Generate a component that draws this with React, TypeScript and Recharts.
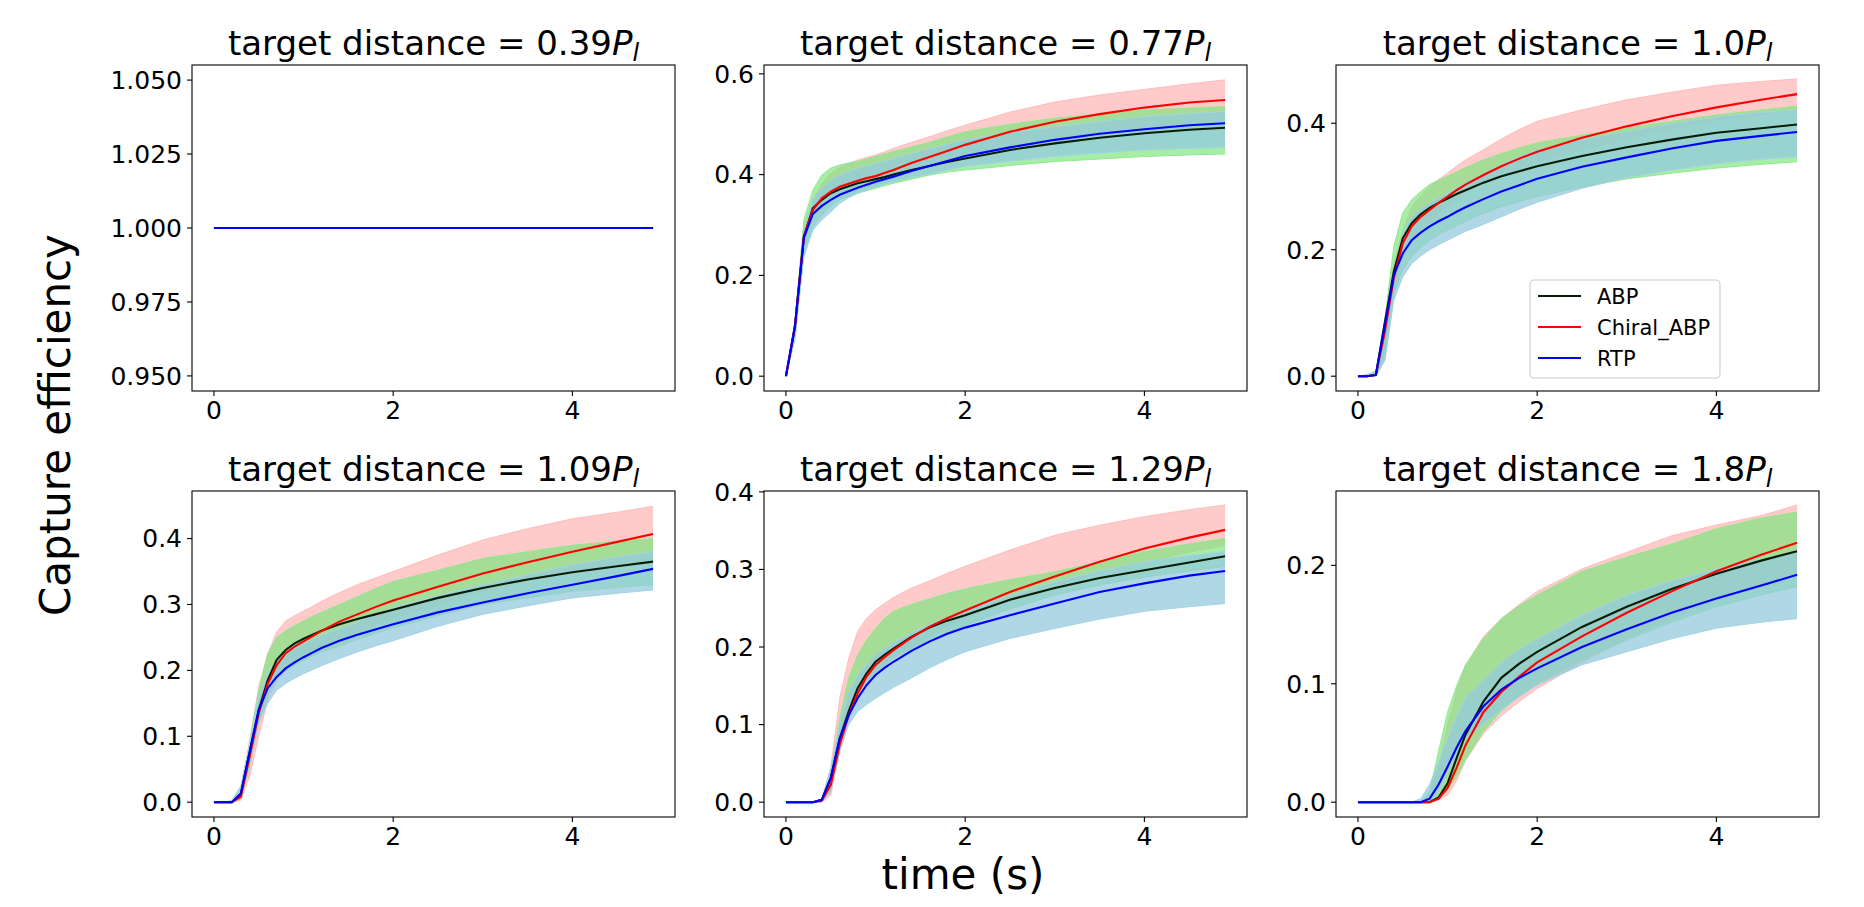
import React from 'react';
import { ComposedChart, Line, Area, XAxis, YAxis } from 'recharts';

const FONT = '"DejaVu Sans", "Liberation Sans", sans-serif';

// shared time grid (s)
const T = [0, 0.1, 0.2, 0.3, 0.4, 0.5, 0.6, 0.7, 0.8, 0.9, 1.0, 1.1, 1.2, 1.4, 1.6, 1.8, 2.0, 2.5, 3.0, 3.5, 4.0, 4.5, 4.9];
const X_TICKS = [0, 2, 4];
const X_DOMAIN: [number, number] = [-0.245, 5.145];

const TITLES = ['0.39', '0.77', '1.0', '1.09', '1.29', '1.8'];
const LEGEND_LABELS = ['ABP', 'Chiral_ABP', 'RTP'];

// ---- panel 1 : 0.39 P_l
const p1Abp = [1, 1, 1, 1, 1, 1, 1, 1, 1, 1, 1, 1, 1, 1, 1, 1, 1, 1, 1, 1, 1, 1, 1];
const p1Chi = [1, 1, 1, 1, 1, 1, 1, 1, 1, 1, 1, 1, 1, 1, 1, 1, 1, 1, 1, 1, 1, 1, 1];
const p1Rtp = [1, 1, 1, 1, 1, 1, 1, 1, 1, 1, 1, 1, 1, 1, 1, 1, 1, 1, 1, 1, 1, 1, 1];
const p1Ticks = [0.95, 0.975, 1.0, 1.025, 1.05];

// ---- panel 2 : 0.77 P_l
const p2Abp = [0, 0.098, 0.277, 0.333, 0.35, 0.363, 0.371, 0.377, 0.383, 0.387, 0.391, 0.395, 0.4, 0.409, 0.417, 0.425, 0.432, 0.449, 0.462, 0.473, 0.482, 0.489, 0.493];
const p2Chi = [0, 0.098, 0.277, 0.33, 0.353, 0.366, 0.376, 0.382, 0.388, 0.393, 0.397, 0.403, 0.409, 0.423, 0.435, 0.447, 0.459, 0.485, 0.505, 0.52, 0.533, 0.543, 0.548];
const p2Rtp = [0, 0.098, 0.275, 0.322, 0.338, 0.35, 0.36, 0.367, 0.374, 0.38, 0.386, 0.391, 0.396, 0.407, 0.417, 0.427, 0.437, 0.454, 0.469, 0.481, 0.49, 0.498, 0.502];
const p2ChiLo = [0, 0.085, 0.257, 0.316, 0.343, 0.36, 0.37, 0.378, 0.386, 0.391, 0.396, 0.401, 0.406, 0.414, 0.422, 0.432, 0.442, 0.456, 0.469, 0.479, 0.488, 0.496, 0.502];
const p2ChiHi = [0, 0.11, 0.297, 0.35, 0.382, 0.402, 0.415, 0.422, 0.429, 0.434, 0.439, 0.445, 0.452, 0.464, 0.475, 0.487, 0.498, 0.524, 0.544, 0.558, 0.569, 0.58, 0.588];
const p2AbpLo = [0, 0.072, 0.244, 0.297, 0.32, 0.336, 0.35, 0.357, 0.363, 0.368, 0.373, 0.378, 0.383, 0.391, 0.399, 0.405, 0.409, 0.418, 0.426, 0.431, 0.436, 0.439, 0.441];
const p2AbpHi = [0, 0.11, 0.31, 0.369, 0.399, 0.413, 0.419, 0.423, 0.426, 0.431, 0.436, 0.441, 0.446, 0.455, 0.464, 0.475, 0.485, 0.5, 0.512, 0.52, 0.528, 0.532, 0.535];
const p2RtpLo = [0, 0.078, 0.237, 0.29, 0.31, 0.326, 0.343, 0.354, 0.363, 0.37, 0.376, 0.381, 0.386, 0.394, 0.401, 0.409, 0.416, 0.427, 0.436, 0.443, 0.449, 0.452, 0.454];
const p2RtpHi = [0, 0.105, 0.284, 0.35, 0.373, 0.389, 0.399, 0.406, 0.412, 0.417, 0.422, 0.427, 0.432, 0.442, 0.451, 0.46, 0.469, 0.483, 0.495, 0.505, 0.515, 0.521, 0.525];
const p2Ticks = [0, 0.2, 0.4, 0.6];

// ---- panel 3 : 1.0 P_l
const p3Abp = [0, 0, 0.002, 0.085, 0.165, 0.218, 0.242, 0.256, 0.266, 0.274, 0.281, 0.288, 0.294, 0.306, 0.316, 0.324, 0.332, 0.348, 0.362, 0.374, 0.385, 0.392, 0.398];
const p3Chi = [0, 0, 0.002, 0.07, 0.155, 0.21, 0.237, 0.252, 0.263, 0.274, 0.284, 0.294, 0.303, 0.318, 0.332, 0.344, 0.355, 0.377, 0.395, 0.411, 0.425, 0.437, 0.446];
const p3Rtp = [0, 0, 0.002, 0.08, 0.16, 0.194, 0.215, 0.227, 0.237, 0.245, 0.252, 0.26, 0.267, 0.28, 0.292, 0.302, 0.312, 0.331, 0.346, 0.36, 0.372, 0.38, 0.386];
const p3ChiLo = [0, 0, 0, 0.036, 0.131, 0.189, 0.215, 0.232, 0.245, 0.257, 0.268, 0.278, 0.288, 0.303, 0.316, 0.328, 0.339, 0.358, 0.375, 0.391, 0.405, 0.414, 0.421];
const p3ChiHi = [0, 0.002, 0.006, 0.09, 0.178, 0.231, 0.268, 0.285, 0.3, 0.311, 0.321, 0.332, 0.342, 0.358, 0.375, 0.39, 0.403, 0.421, 0.437, 0.449, 0.46, 0.466, 0.47];
const p3AbpLo = [0, 0, 0, 0.025, 0.131, 0.168, 0.189, 0.203, 0.215, 0.224, 0.231, 0.238, 0.245, 0.257, 0.268, 0.276, 0.284, 0.299, 0.312, 0.321, 0.329, 0.335, 0.339];
const p3AbpHi = [0, 0.002, 0.008, 0.089, 0.205, 0.258, 0.279, 0.292, 0.303, 0.31, 0.316, 0.323, 0.33, 0.342, 0.352, 0.361, 0.369, 0.381, 0.392, 0.403, 0.413, 0.421, 0.427];
const p3RtpLo = [0, 0, 0, 0.025, 0.12, 0.157, 0.178, 0.19, 0.2, 0.208, 0.215, 0.222, 0.229, 0.24, 0.252, 0.264, 0.275, 0.297, 0.314, 0.326, 0.336, 0.343, 0.347];
const p3RtpHi = [0, 0.002, 0.006, 0.068, 0.163, 0.226, 0.252, 0.264, 0.274, 0.282, 0.289, 0.297, 0.305, 0.32, 0.334, 0.347, 0.358, 0.374, 0.387, 0.399, 0.41, 0.417, 0.421];
const p3Ticks = [0, 0.2, 0.4];

// ---- panel 4 : 1.09 P_l
const p4Abp = [0, 0, 0, 0.012, 0.077, 0.14, 0.185, 0.216, 0.231, 0.241, 0.248, 0.254, 0.26, 0.27, 0.278, 0.285, 0.292, 0.31, 0.325, 0.338, 0.349, 0.358, 0.365];
const p4Chi = [0, 0, 0, 0.008, 0.07, 0.135, 0.18, 0.208, 0.226, 0.236, 0.244, 0.252, 0.26, 0.274, 0.285, 0.296, 0.306, 0.327, 0.347, 0.364, 0.38, 0.395, 0.407];
const p4Rtp = [0, 0, 0, 0.013, 0.077, 0.14, 0.173, 0.19, 0.203, 0.212, 0.22, 0.227, 0.234, 0.245, 0.254, 0.262, 0.27, 0.288, 0.303, 0.317, 0.33, 0.343, 0.354];
const p4ChiLo = [0, 0, 0, 0.003, 0.04, 0.1, 0.155, 0.185, 0.2, 0.21, 0.22, 0.228, 0.235, 0.245, 0.258, 0.27, 0.28, 0.3, 0.32, 0.335, 0.35, 0.36, 0.365];
const p4ChiHi = [0, 0, 0.002, 0.02, 0.095, 0.175, 0.225, 0.258, 0.275, 0.283, 0.29, 0.297, 0.305, 0.318, 0.33, 0.34, 0.35, 0.375, 0.398, 0.415, 0.43, 0.44, 0.449];
const p4AbpLo = [0, 0, 0, 0.005, 0.055, 0.12, 0.165, 0.19, 0.2, 0.208, 0.215, 0.222, 0.228, 0.237, 0.247, 0.256, 0.265, 0.283, 0.3, 0.31, 0.32, 0.326, 0.33];
const p4AbpHi = [0, 0, 0.002, 0.015, 0.09, 0.17, 0.225, 0.25, 0.26, 0.268, 0.275, 0.282, 0.288, 0.3, 0.312, 0.324, 0.335, 0.352, 0.37, 0.38, 0.39, 0.396, 0.4];
const p4RtpLo = [0, 0, 0, 0.008, 0.06, 0.12, 0.15, 0.17, 0.18, 0.188, 0.195, 0.201, 0.207, 0.218, 0.228, 0.237, 0.245, 0.267, 0.285, 0.298, 0.31, 0.317, 0.322];
const p4RtpHi = [0, 0, 0.002, 0.025, 0.09, 0.16, 0.195, 0.215, 0.225, 0.233, 0.24, 0.247, 0.253, 0.263, 0.273, 0.284, 0.295, 0.313, 0.33, 0.345, 0.36, 0.372, 0.38];
const p4Ticks = [0, 0.1, 0.2, 0.3, 0.4];

// ---- panel 5 : 1.29 P_l
const p5Abp = [0, 0, 0, 0, 0.003, 0.031, 0.082, 0.117, 0.147, 0.166, 0.181, 0.19, 0.198, 0.213, 0.225, 0.234, 0.241, 0.261, 0.276, 0.289, 0.299, 0.309, 0.317];
const p5Chi = [0, 0, 0, 0, 0.002, 0.022, 0.074, 0.112, 0.14, 0.162, 0.177, 0.187, 0.196, 0.212, 0.226, 0.237, 0.247, 0.271, 0.291, 0.31, 0.327, 0.341, 0.351];
const p5Rtp = [0, 0, 0, 0, 0.003, 0.031, 0.082, 0.112, 0.134, 0.151, 0.164, 0.173, 0.181, 0.195, 0.207, 0.217, 0.225, 0.241, 0.256, 0.271, 0.282, 0.292, 0.298];
const p5ChiLo = [0, 0, 0, 0, 0, 0.009, 0.065, 0.108, 0.134, 0.15, 0.164, 0.175, 0.186, 0.2, 0.213, 0.226, 0.237, 0.26, 0.28, 0.296, 0.31, 0.322, 0.331];
const p5ChiHi = [0, 0, 0, 0, 0.003, 0.044, 0.134, 0.185, 0.22, 0.237, 0.248, 0.256, 0.264, 0.276, 0.285, 0.295, 0.304, 0.325, 0.344, 0.357, 0.368, 0.377, 0.383];
const p5AbpLo = [0, 0, 0, 0, 0, 0.014, 0.074, 0.117, 0.142, 0.156, 0.168, 0.177, 0.186, 0.198, 0.208, 0.218, 0.228, 0.249, 0.267, 0.28, 0.29, 0.298, 0.304];
const p5AbpHi = [0, 0, 0, 0, 0.003, 0.035, 0.108, 0.16, 0.19, 0.209, 0.224, 0.237, 0.246, 0.255, 0.262, 0.269, 0.275, 0.287, 0.297, 0.31, 0.323, 0.333, 0.34];
const p5RtpLo = [0, 0, 0, 0, 0, 0.014, 0.065, 0.1, 0.117, 0.126, 0.134, 0.141, 0.148, 0.16, 0.173, 0.184, 0.194, 0.211, 0.224, 0.236, 0.246, 0.252, 0.256];
const p5RtpHi = [0, 0, 0, 0, 0.004, 0.044, 0.1, 0.142, 0.164, 0.178, 0.19, 0.198, 0.206, 0.218, 0.229, 0.238, 0.246, 0.266, 0.284, 0.298, 0.31, 0.318, 0.323];
const p5Ticks = [0, 0.1, 0.2, 0.3, 0.4];

// ---- panel 6 : 1.8 P_l
const p6Abp = [0, 0, 0, 0, 0, 0, 0, 0, 0, 0.004, 0.016, 0.037, 0.057, 0.085, 0.105, 0.117, 0.127, 0.148, 0.165, 0.18, 0.193, 0.204, 0.212];
const p6Chi = [0, 0, 0, 0, 0, 0, 0, 0, 0, 0.003, 0.012, 0.029, 0.048, 0.076, 0.093, 0.106, 0.118, 0.14, 0.16, 0.178, 0.195, 0.209, 0.219];
const p6Rtp = [0, 0, 0, 0, 0, 0, 0, 0, 0.003, 0.015, 0.03, 0.046, 0.06, 0.081, 0.095, 0.105, 0.113, 0.131, 0.146, 0.16, 0.172, 0.183, 0.192];
const p6ChiLo = [0, 0, 0, 0, 0, 0, 0, 0, 0, 0.002, 0.006, 0.018, 0.035, 0.058, 0.073, 0.085, 0.096, 0.118, 0.138, 0.155, 0.17, 0.182, 0.19];
const p6ChiHi = [0, 0, 0, 0, 0, 0, 0, 0, 0.003, 0.029, 0.065, 0.093, 0.115, 0.14, 0.155, 0.167, 0.178, 0.197, 0.211, 0.225, 0.234, 0.242, 0.251];
const p6AbpLo = [0, 0, 0, 0, 0, 0, 0, 0, 0, 0.003, 0.01, 0.022, 0.036, 0.06, 0.077, 0.09, 0.1, 0.12, 0.137, 0.152, 0.165, 0.175, 0.182];
const p6AbpHi = [0, 0, 0, 0, 0, 0, 0, 0, 0.009, 0.043, 0.076, 0.098, 0.116, 0.138, 0.155, 0.166, 0.175, 0.195, 0.207, 0.218, 0.231, 0.24, 0.245];
const p6RtpLo = [0, 0, 0, 0, 0, 0, 0, 0, 0, 0.009, 0.026, 0.04, 0.054, 0.066, 0.078, 0.089, 0.099, 0.116, 0.127, 0.138, 0.147, 0.152, 0.155];
const p6RtpHi = [0, 0, 0, 0, 0, 0, 0, 0.003, 0.015, 0.034, 0.054, 0.072, 0.088, 0.103, 0.118, 0.129, 0.138, 0.158, 0.175, 0.187, 0.197, 0.205, 0.211];
const p6Ticks = [0, 0.1, 0.2];

// ---- layout
const PW = 483;
const PH = 326;
const COL_LEFT = [192, 764, 1336];
const ROW_TOP = [65, 491];
const YW = 110;
const XH = 50;
const TOPPAD = 20;

const C_ABP = '#061c06';
const C_CHI = '#ff0000';
const C_RTP = '#0000ff';

type Cfg = {
  title: string;
  left: number;
  top: number;
  yDomain: [number, number];
  yTicks: number[];
  dec: number;
  abp: number[];
  chi: number[];
  rtp: number[];
  bands?: { chiLo: number[]; chiHi: number[]; abpLo: number[]; abpHi: number[]; rtpLo: number[]; rtpHi: number[] };
};

const PANELS: Cfg[] = [
  { title: TITLES[0], left: COL_LEFT[0], top: ROW_TOP[0], yDomain: [0.9449, 1.0551], yTicks: p1Ticks, dec: 3, abp: p1Abp, chi: p1Chi, rtp: p1Rtp },
  { title: TITLES[1], left: COL_LEFT[1], top: ROW_TOP[0], yDomain: [-0.0294, 0.6175], yTicks: p2Ticks, dec: 1, abp: p2Abp, chi: p2Chi, rtp: p2Rtp,
    bands: { chiLo: p2ChiLo, chiHi: p2ChiHi, abpLo: p2AbpLo, abpHi: p2AbpHi, rtpLo: p2RtpLo, rtpHi: p2RtpHi } },
  { title: TITLES[2], left: COL_LEFT[2], top: ROW_TOP[0], yDomain: [-0.0234, 0.492], yTicks: p3Ticks, dec: 1, abp: p3Abp, chi: p3Chi, rtp: p3Rtp,
    bands: { chiLo: p3ChiLo, chiHi: p3ChiHi, abpLo: p3AbpLo, abpHi: p3AbpHi, rtpLo: p3RtpLo, rtpHi: p3RtpHi } },
  { title: TITLES[3], left: COL_LEFT[0], top: ROW_TOP[1], yDomain: [-0.0225, 0.4722], yTicks: p4Ticks, dec: 1, abp: p4Abp, chi: p4Chi, rtp: p4Rtp,
    bands: { chiLo: p4ChiLo, chiHi: p4ChiHi, abpLo: p4AbpLo, abpHi: p4AbpHi, rtpLo: p4RtpLo, rtpHi: p4RtpHi } },
  { title: TITLES[4], left: COL_LEFT[1], top: ROW_TOP[1], yDomain: [-0.0191, 0.4011], yTicks: p5Ticks, dec: 1, abp: p5Abp, chi: p5Chi, rtp: p5Rtp,
    bands: { chiLo: p5ChiLo, chiHi: p5ChiHi, abpLo: p5AbpLo, abpHi: p5AbpHi, rtpLo: p5RtpLo, rtpHi: p5RtpHi } },
  { title: TITLES[5], left: COL_LEFT[2], top: ROW_TOP[1], yDomain: [-0.0125, 0.2628], yTicks: p6Ticks, dec: 1, abp: p6Abp, chi: p6Chi, rtp: p6Rtp,
    bands: { chiLo: p6ChiLo, chiHi: p6ChiHi, abpLo: p6AbpLo, abpHi: p6AbpHi, rtpLo: p6RtpLo, rtpHi: p6RtpHi } },
];

const tickStyle = { fill: '#000', fontSize: 25, fontFamily: FONT };

function Panel({ cfg }: { cfg: Cfg }) {
  const data = T.map((t, k) => ({
    t,
    abp: cfg.abp[k],
    chi: cfg.chi[k],
    rtp: cfg.rtp[k],
    chiBand: cfg.bands ? [cfg.bands.chiLo[k], cfg.bands.chiHi[k]] : null,
    abpBand: cfg.bands ? [cfg.bands.abpLo[k], cfg.bands.abpHi[k]] : null,
    rtpBand: cfg.bands ? [cfg.bands.rtpLo[k], cfg.bands.rtpHi[k]] : null,
  }));
  return (
    <div style={{ position: 'absolute', left: cfg.left - YW, top: cfg.top - TOPPAD }}>
      <ComposedChart width={YW + PW} height={TOPPAD + PH + XH} data={data} margin={{ top: TOPPAD, right: 0, bottom: 0, left: 0 }}>
        <XAxis
          type="number"
          dataKey="t"
          domain={X_DOMAIN}
          ticks={X_TICKS}
          allowDataOverflow
          interval={0}
          axisLine={false}
          tickLine={{ stroke: '#000', strokeWidth: 1.1 }}
          tickSize={5}
          tickMargin={5}
          height={XH}
          tick={tickStyle}
        />
        <YAxis
          type="number"
          domain={cfg.yDomain}
          ticks={cfg.yTicks}
          allowDataOverflow
          interval={0}
          axisLine={false}
          tickLine={{ stroke: '#000', strokeWidth: 1.1 }}
          tickSize={5}
          tickMargin={5}
          width={YW}
          tick={tickStyle}
          tickFormatter={(v: number) => v.toFixed(cfg.dec)}
        />
        {cfg.bands && (
          <Area type="linear" dataKey="chiBand" fill="#ffb8b8" fillOpacity={0.75} stroke="#ffbcbc" strokeWidth={1} isAnimationActive={false} dot={false} activeDot={false} />
        )}
        {cfg.bands && (
          <Area type="linear" dataKey="abpBand" fill="#80e680" fillOpacity={0.7} stroke="#90ea90" strokeWidth={1} isAnimationActive={false} dot={false} activeDot={false} />
        )}
        {cfg.bands && (
          <Area type="linear" dataKey="rtpBand" fill="#94cadc" fillOpacity={0.75} stroke="#a4d4e4" strokeWidth={1} isAnimationActive={false} dot={false} activeDot={false} />
        )}
        <Line type="linear" dataKey="abp" stroke={C_ABP} strokeWidth={2.1} dot={false} activeDot={false} isAnimationActive={false} />
        <Line type="linear" dataKey="chi" stroke={C_CHI} strokeWidth={2.1} dot={false} activeDot={false} isAnimationActive={false} />
        <Line type="linear" dataKey="rtp" stroke={C_RTP} strokeWidth={2.1} dot={false} activeDot={false} isAnimationActive={false} />
      </ComposedChart>
    </div>
  );
}

function Overlay() {
  const legendColors = [C_ABP, C_CHI, C_RTP];
  const lx = 1530;
  const ly = 280;
  return (
    <svg width={1864} height={907} style={{ position: 'absolute', left: 0, top: 0, pointerEvents: 'none' }}>
      {PANELS.map((p, i) => (
        <g key={i}>
          <rect x={p.left} y={p.top} width={PW} height={PH} fill="none" stroke="#000" strokeWidth={1.1} />
          <text x={p.left + PW / 2} y={p.top - 10} textAnchor="middle" fontFamily={FONT} fontSize={34} fill="#000">
            {'target distance = ' + p.title}
            <tspan fontStyle="italic">P</tspan>
            <tspan fontStyle="italic" fontSize={24} dy={6}>l</tspan>
          </text>
        </g>
      ))}
      <text x={963} y={889} textAnchor="middle" fontFamily={FONT} fontSize={42} fill="#000">time (s)</text>
      <text transform="translate(70,425) rotate(-90)" textAnchor="middle" fontFamily={FONT} fontSize={42} fill="#000">Capture efficiency</text>
      <g>
        <rect x={lx} y={ly} width={190} height={98} rx={4} ry={4} fill="#fff" fillOpacity={0.8} stroke="#cccccc" strokeWidth={1.1} />
        {LEGEND_LABELS.map((lab, i) => {
          const y = 296 + i * 31;
          return (
            <g key={lab}>
              <line x1={lx + 8} x2={lx + 51} y1={y} y2={y} stroke={legendColors[i]} strokeWidth={2.1} />
              <text x={lx + 67} y={y + 7.6} fontFamily={FONT} fontSize={21} fill="#000">{lab}</text>
            </g>
          );
        })}
      </g>
    </svg>
  );
}

export default function App() {
  return (
    <div style={{ position: 'absolute', left: 0, top: 0, width: 1864, height: 907, background: '#fff', fontFamily: FONT }}>
      {PANELS.map((p, i) => (
        <Panel key={i} cfg={p} />
      ))}
      <Overlay />
    </div>
  );
}
